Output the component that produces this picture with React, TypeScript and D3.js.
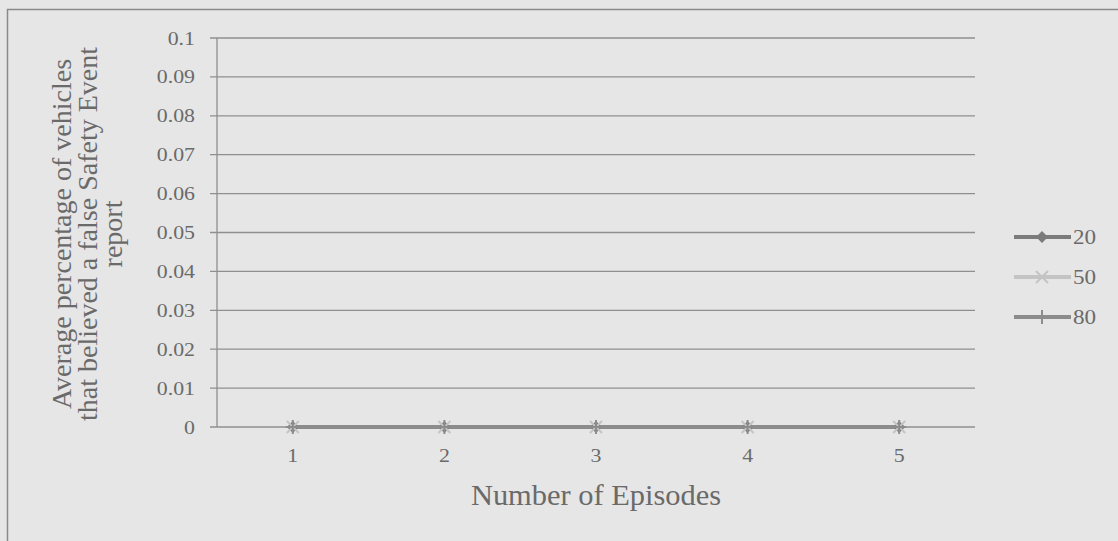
import React from "react";
import * as d3 from "d3";

const episodes = ["1", "2", "3", "4", "5"];
const series20 = [0, 0, 0, 0, 0];
const series50 = [0, 0, 0, 0, 0];
const series80 = [0, 0, 0, 0, 0];
const seriesNames = ["20", "50", "80"];
const yTicks = [0, 0.01, 0.02, 0.03, 0.04, 0.05, 0.06, 0.07, 0.08, 0.09, 0.1];
const yTitleLines = ["Average percentage of vehicles", "that believed a false Safety Event", "report"];
const xTitle = "Number of Episodes";

const W = 1118, H = 541;
const left = 217, right = 975, top = 38, bottom = 427;
const font = "'Liberation Serif', 'Times New Roman', serif";
const textColor = "#6a6a6a";
const colors = ["#7b7b7b", "#c4c4c4", "#8c8c8c"];
const SX = 1.2;

function Marker({ kind, x, y, color }: { kind: number; x: number; y: number; color: string }) {
  if (kind === 0) {
    const s = 6;
    return <path d={`M${x},${y - s}L${x + s},${y}L${x},${y + s}L${x - s},${y}Z`} fill={color} />;
  }
  if (kind === 1) {
    const s = 6;
    return <path d={`M${x - s},${y - s}L${x + s},${y + s}M${x - s},${y + s}L${x + s},${y - s}`} stroke={color} strokeWidth={2} />;
  }
  const s = 7;
  return <path d={`M${x - s},${y}L${x + s},${y}M${x},${y - s}L${x},${y + s}`} stroke={color} strokeWidth={2} />;
}

function T({ x, y, size, anchor, sx = SX, children }: { x: number; y: number; size: number; anchor: string; sx?: number; children: React.ReactNode }) {
  return (
    <text transform={`translate(${x},${y}) scale(${sx},1)`} textAnchor={anchor} fontFamily={font} fontSize={size} fill={textColor}>
      {children}
    </text>
  );
}

export default function App() {
  const x = d3.scaleBand<string>().domain(episodes).range([left, right]);
  const y = d3.scaleLinear().domain([0, 0.1]).range([bottom, top]);
  const all = [series20, series50, series80];
  const cx = (i: number) => (x(episodes[i]) as number) + x.bandwidth() / 2;
  const line = d3
    .line<number>()
    .x((_, i) => cx(i))
    .y((d) => y(d));
  const fmt = (v: number) => (v === 0 ? "0" : String(+v.toFixed(2)));

  return (
    <svg width={W} height={H} style={{ position: "absolute", left: 0, top: 0, display: "block" }}>
      <rect x={0} y={0} width={W} height={H} fill="#e6e6e6" />
      <rect x={7.5} y={9.5} width={W + 20} height={H + 20} fill="none" stroke="#8a8a8a" strokeWidth={1.5} />
      {yTicks.map((t) => (
        <g key={t}>
          <line x1={left - 7} x2={right} y1={y(t)} y2={y(t)} stroke="#8f8f8f" strokeWidth={1.3} />
          <T x={195} y={y(t) + 6.5} size={19} anchor="end" sx={1.15}>
            {fmt(t)}
          </T>
        </g>
      ))}
      <line x1={left} x2={left} y1={top} y2={bottom} stroke="#8f8f8f" strokeWidth={1.3} />
      {episodes.map((e, i) => (
        <T key={e} x={cx(i)} y={bottom + 35} size={19} anchor="middle" sx={1.15}>
          {e}
        </T>
      ))}
      {all.map((s, k) => (
        <path key={"l" + k} d={line(s) || ""} fill="none" stroke={colors[k]} strokeWidth={4} />
      ))}
      {all.map((s, k) =>
        s.map((v, i) => <Marker key={`m${k}-${i}`} kind={k} x={cx(i)} y={y(v)} color={colors[k]} />)
      )}
      <T x={(left + right) / 2} y={505} size={29} anchor="middle" sx={1.05}>
        {xTitle}
      </T>
      {yTitleLines.map((t, i) => (
        <text
          key={t}
          transform={`translate(${[71, 97, 122][i]},${234}) rotate(-90)`}
          textAnchor="middle"
          fontFamily={font}
          fontSize={28}
          fill={textColor}
        >
          {t}
        </text>
      ))}
      {seriesNames.map((n, k) => {
        const ly = 237 + k * 40;
        return (
          <g key={n}>
            <line x1={1014} x2={1071} y1={ly} y2={ly} stroke={colors[k]} strokeWidth={4} />
            <Marker kind={k} x={1042} y={ly} color={colors[k]} />
            <T x={1073} y={ly + 7} size={21} anchor="start" sx={1.1}>
              {n}
            </T>
          </g>
        );
      })}
    </svg>
  );
}
